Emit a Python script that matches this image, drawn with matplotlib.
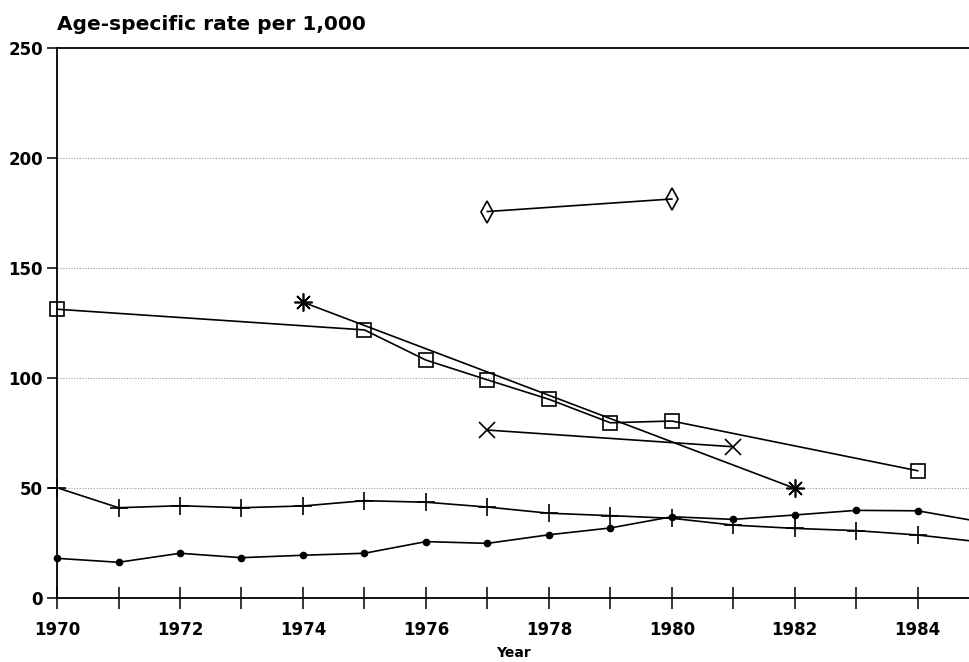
import numpy as np
import matplotlib
matplotlib.use("Agg")
import matplotlib.pyplot as plt

plt.rcParams['font.family'] = ['DejaVu Sans']
plt.rcParams['font.weight'] = 'bold'

# annual series (last point runs past the right edge of the figure)
years_full = [1970, 1971, 1972, 1973, 1974, 1975, 1976, 1977,
              1978, 1979, 1980, 1981, 1982, 1983, 1984, 1985]
plus_rates = [50.0, 40.9, 41.8, 40.9, 41.7, 44.1, 43.4, 41.2,
              38.4, 37.3, 36.1, 33.0, 31.5, 30.5, 28.5, 25.4]
dot_rates = [17.9, 16.1, 20.2, 18.2, 19.3, 20.2, 25.5, 24.7,
             28.6, 31.7, 36.8, 35.6, 37.6, 39.7, 39.5, 34.6]

# survey-based series
square_years = [1970, 1975, 1976, 1977, 1978, 1979, 1980, 1984]
square_rates = [131.1, 121.7, 108.0, 99.0, 90.2, 79.5, 80.3, 57.7]

star_years = [1974, 1982]
star_rates = [134.3, 49.7]

cross_years = [1977, 1981]
cross_rates = [76.2, 68.6]

diamond_years = [1977, 1980]
diamond_rates = [175.5, 181.2]

xtick_years = list(range(1970, 1985))
xtick_labels = [str(y) if y % 2 == 0 else "" for y in xtick_years]
ytick_values = [0, 50, 100, 150, 200, 250]

fig = plt.figure(figsize=(9.7, 6.62), dpi=100)
ax = fig.add_axes([0.0588, 0.0971, 0.9412, 0.831])

lw = 1.2
style = dict(color="black", lw=lw, clip_on=False)
ax.plot(years_full, plus_rates, marker="+", markersize=13, mew=1.2, **style)
ax.plot(years_full, dot_rates, marker="o", markersize=4.5, **style)
ax.plot(square_years, square_rates, marker="s", markersize=10,
        mfc="none", mew=1.2, **style)
ax.plot(star_years, star_rates, marker=(8, 2, 0), markersize=13,
        mew=1.2, **style)
ax.plot(cross_years, cross_rates, marker="x", markersize=12, mew=1.2,
        **style)
ax.plot(diamond_years, diamond_rates, marker="d", markersize=11,
        mfc="none", mew=1.2, **style)

ax.set_xlim(1970, 1984.85)
ax.set_ylim(0, 250)

ax.set_xticks(xtick_years)
ax.set_xticklabels(xtick_labels, fontsize=12, fontweight="bold")
ax.set_yticks(ytick_values)
ax.set_yticklabels([str(v) for v in ytick_values], fontsize=12,
                   fontweight="bold")

ax.tick_params(axis="x", direction="inout", length=16, width=1.1, pad=9)
ax.tick_params(axis="y", direction="out", length=7, width=1.1, pad=3)

for v in ytick_values[1:-1]:
    ax.axhline(v, color="#999999", lw=0.8, ls=(0, (1, 1.5)), zorder=0)

ax.spines["right"].set_visible(False)
for side in ["left", "bottom", "top"]:
    ax.spines[side].set_linewidth(1.3)

ax.set_xlabel("Year", fontsize=10, fontweight="bold", labelpad=5)
fig.text(0.0588, 0.9547, "Age-specific rate per 1,000", fontsize=14.5,
         fontweight="bold", ha="left", va="baseline")

fig.savefig("out.png", dpi=100)
